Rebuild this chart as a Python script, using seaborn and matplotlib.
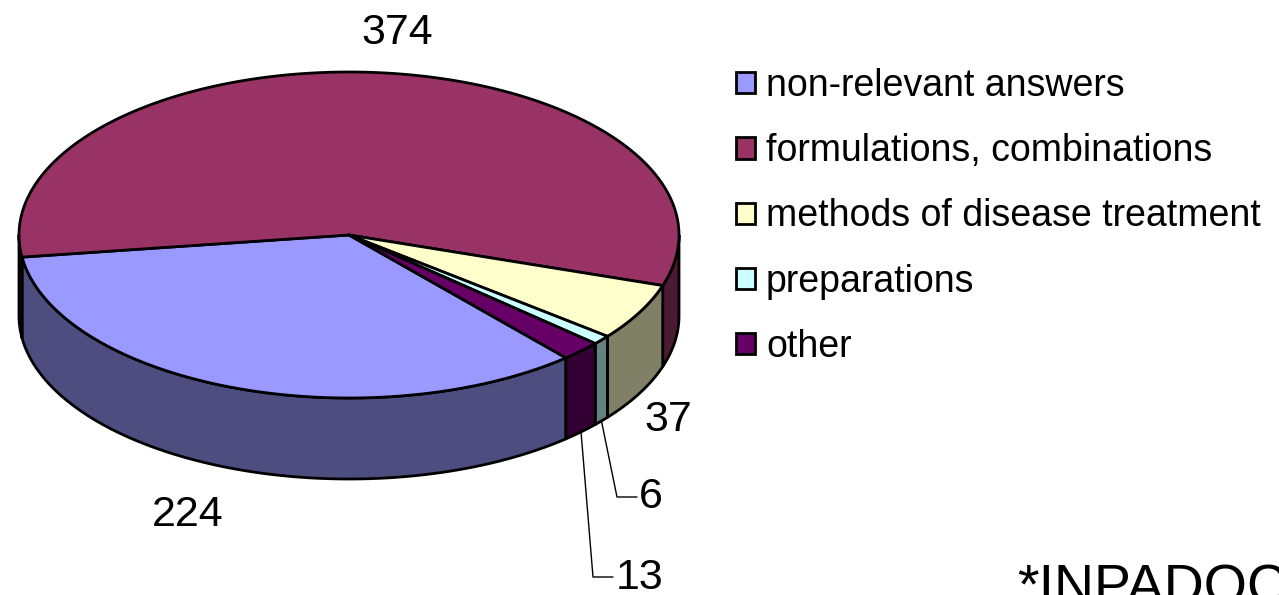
"""3D-style pie chart of answer categories (INPADOC search results)."""
import numpy as np
import matplotlib.pyplot as plt
import seaborn as sns
from matplotlib.patches import Patch

# data
categories = ["non-relevant answers", "formulations, combinations",
              "methods of disease treatment", "preparations", "other"]
counts = [224, 374, 37, 6, 13]
top_colors = ["#9999FF", "#993366", "#FFFFCC", "#CCFFFF", "#660066"]
side_colors = ["#4D4D80", "#4D1A33", "#808066", "#668080", "#330033"]
source_note = "*INPADOC"

sns.set_theme(style="white")
plt.rcParams["font.family"] = ["Liberation Sans", "DejaVu Sans"]
plt.rcParams["text.color"] = "black"

# geometry of the tilted disc, in pixel units
cx, cy, rx, ry, depth = 349, 235, 330, 163, 81
start_deg = 311.1  # first slice starts here, slices go clockwise

fig = plt.figure(figsize=(12.79, 5.95), dpi=100)
ax = fig.add_axes([0, 0, 1, 1])
ax.set_xlim(0, 1279)
ax.set_ylim(595, 0)
ax.axis("off")

values = np.array(counts, dtype=float)
spans = values / values.sum() * 360.0
ends = start_deg - np.cumsum(spans)
starts = ends + spans


def ell(t_deg, dy=0.0):
    t = np.radians(t_deg)
    return cx + rx * np.cos(t), cy - ry * np.sin(t) + dy


# outer walls on the front half (angles between 180 and 360)
for a0, a1, col in zip(starts, ends, side_colors):
    lo, hi = min(a0, a1), max(a0, a1)
    for shift in (-360, 0, 360):
        s, e = max(lo + shift, 180), min(hi + shift, 360)
        if e <= s:
            continue
        t = np.linspace(s, e, 80)
        x1, y1 = ell(t)
        x2, y2 = ell(t[::-1], depth)
        ax.fill(np.r_[x1, x2], np.r_[y1, y2], facecolor=col,
                edgecolor="black", linewidth=2, joinstyle="round")

# top faces
for a0, a1, col in zip(starts, ends, top_colors):
    t = np.linspace(a0, a1, 200)
    x, y = ell(t)
    ax.fill(np.r_[cx, x], np.r_[cy, y], facecolor=col,
            edgecolor="black", linewidth=2, joinstyle="round")

# value labels
mids = (starts + ends) / 2
label_fs = 31
label_xy = [(188, 515), (397, 33), (668, 420), (651, 497), (640, 578)]
for v, (lx, ly) in zip(counts, label_xy):
    ax.text(lx, ly, str(v), fontsize=label_fs, ha="center", va="center",
            color="black")

# leader lines for the thin slices
for i, (kx, ky) in [(3, (617, 497)), (4, (593, 577))]:
    sx, sy = ell(mids[i], depth)
    ax.plot([sx, kx, kx + 20], [sy, ky, ky], color="black", linewidth=1)

# legend
handles = [Patch(facecolor=c, edgecolor="black", linewidth=2) for c in top_colors]
leg = ax.legend(handles, categories, loc="upper left", bbox_to_anchor=(736, 68),
                bbox_transform=ax.transData, frameon=False, fontsize=27,
                handlelength=0.5, handleheight=0.5, handletextpad=0.3,
                labelspacing=0.78, borderpad=0, borderaxespad=0)
for txt in leg.get_texts():
    txt.set_color("black")

ax.text(1017, 604, source_note, fontsize=40, ha="left", va="baseline",
        color="black")

fig.savefig("out.png", dpi=100)
